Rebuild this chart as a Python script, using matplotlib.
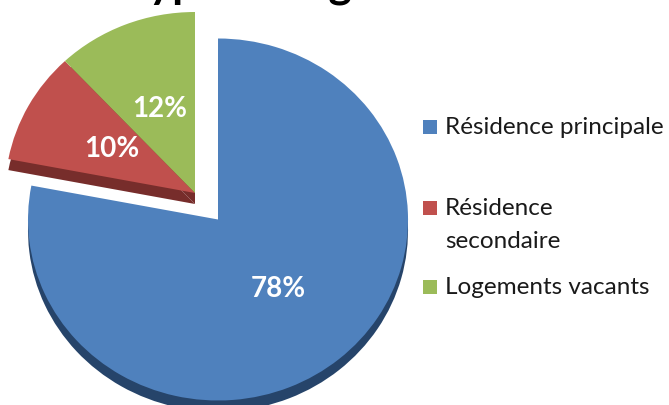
import matplotlib
matplotlib.use("Agg")
import matplotlib.pyplot as plt
from matplotlib.patches import Rectangle

# ----- data -----
labels = ["Résidence principale", "Résidence\nsecondaire", "Logements vacants"]
shares = [78, 10, 12]
colors = ["#4F81BD", "#C0504D", "#9BBB59"]
side_colors = ["#26446A", "#772D2B", "#772D2B"]
title = "Type de logements"

W, H = 669, 405
plt.rcParams["font.family"] = ["Lato", "DejaVu Sans"]

fig = plt.figure(figsize=(W / 100, H / 100), dpi=100)
ax = fig.add_axes([0, 0, 1, 1])

# pie centre and radii in pixels (slightly tilted -> ellipse)
cx, cy = 195, 193
rx, ry = 190, 181
depth = 11 / ry
explode = [0.19, 0, 0]

# side of the 3D pie: same pie, darker, shifted down
ax.pie(shares, colors=side_colors, startangle=90, counterclock=False,
       explode=explode, center=(0, -depth),
       wedgeprops=dict(linewidth=0))
# top face
wedges, _, pct = ax.pie(shares, colors=colors, startangle=90, counterclock=False,
                        explode=explode, autopct="%1.0f%%", pctdistance=0.5,
                        wedgeprops=dict(linewidth=0),
                        textprops=dict(color="white", fontsize=20, fontweight="bold"))

ax.set_aspect("auto")
ax.set_xlim((0 - cx) / rx, (W - cx) / rx)
ax.set_ylim((cy - H) / ry, cy / ry)
ax.axis("off")


def fx(x):
    return x / W


def fy(y):
    return 1 - y / H


# title, mostly cut off by the top of the picture
fig.text(fx(122), fy(-3), title, fontsize=32, fontweight="bold",
         ha="left", va="baseline", color="black")

# legend
rows = [127, 208, 287]
for lab, col, y in zip(labels, colors, rows):
    fig.add_artist(Rectangle((fx(423), fy(y + 7)), 14 / W, 14 / H,
                             transform=fig.transFigure, color=col, lw=0))
    lines = lab.split("\n")
    for k, line in enumerate(lines):
        fig.text(fx(445), fy(y + 33 * k), line, fontsize=17.5,
                 ha="left", va="center", color="#1a1a1a")

fig.savefig("out.png", dpi=100)
